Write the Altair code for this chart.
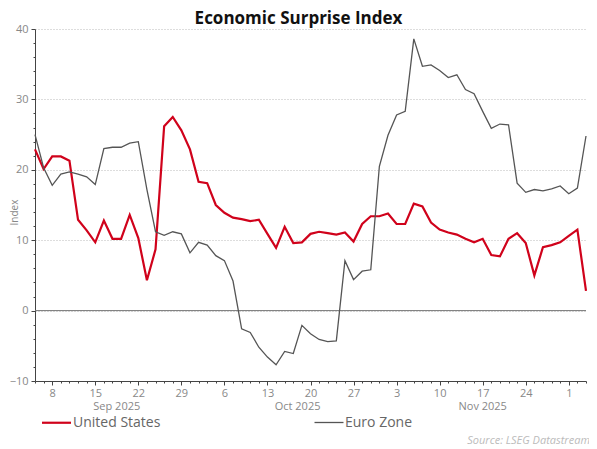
import altair as alt
import pandas as pd

# Business days shown on the chart (Sep 4 2025 .. Dec 3 2025)
dates = pd.bdate_range("2025-09-04", "2025-12-03")

us_values = [22.9, 20.1, 21.9, 21.9, 21.3, 12.9, 11.4, 9.7, 12.8, 10.2,
             10.2, 13.6, 10.3, 4.3, 8.7, 26.2, 27.5, 25.6, 22.9, 18.3,
             18.1, 15.0, 13.9, 13.2, 13.0, 12.7, 12.9, 10.9, 8.9, 11.9,
             9.6, 9.7, 10.9, 11.2, 11.0, 10.8, 11.1, 9.8, 12.3, 13.4,
             13.4, 13.8, 12.3, 12.3, 15.2, 14.8, 12.5, 11.5, 11.1, 10.8,
             10.2, 9.7, 10.2, 7.9, 7.7, 10.2, 11.0, 9.6, 5.0, 9.0,
             9.3, 9.7, 10.6, 11.5, 2.8]

ez_values = [25.0, 20.3, 17.8, 19.4, 19.7, 19.4, 19.0, 17.9, 23.0, 23.2,
             23.2, 23.8, 24.0, 17.2, 11.2, 10.7, 11.2, 10.9, 8.2, 9.7,
             9.3, 7.8, 7.1, 4.2, -2.6, -3.1, -5.2, -6.6, -7.7, -5.8,
             -6.1, -2.1, -3.3, -4.1, -4.4, -4.3, 7.1, 4.4, 5.6, 5.8,
             20.5, 24.9, 27.8, 28.3, 38.6, 34.7, 34.9, 34.1, 33.1, 33.5,
             31.4, 30.8, 28.3, 25.9, 26.5, 26.4, 18.1, 16.8, 17.2, 17.0,
             17.3, 17.7, 16.6, 17.4, 24.8]

series_names = ["United States", "Euro Zone"]
series_colors = ["#D0021B", "#555555"]
series_widths = [2.2, 1.3]
y_ticks = list(range(-10, 41, 2))
title_text = "Economic Surprise Index"
source_text = "Source: LSEG Datastream"

W, H = 551, 352
FONT = "Open Sans"

idx = list(range(len(dates)))
df = pd.DataFrame({
    "i": idx * 2,
    "date": [d.strftime("%Y-%m-%d") for d in dates] * 2,
    "series": [series_names[0]] * len(idx) + [series_names[1]] * len(idx),
    "value": us_values + ez_values,
})

# x tick labels: day number on Mondays only
day_labels = [str(d.day) if d.weekday() == 0 else "" for d in dates]
is_monday = [1 if d.weekday() == 0 else 0 for d in dates]
label_arr = "[" + ",".join("'" + s + "'" for s in day_labels) + "]"
monday_arr = "[" + ",".join(str(v) for v in is_monday) + "]"

# month labels centred on each month's span
months = pd.DataFrame({"i": idx, "m": [d.strftime("%b %Y") for d in dates]})
mdf = months.groupby("m", sort=False)["i"].agg(["min", "max"]).reset_index()
mdf = mdf[mdf["m"] != "Dec 2025"]
mdf["pos"] = (mdf["min"] + mdf["max"]) / 2 + 0.5

xscale = alt.Scale(domain=[0, len(idx) - 1], nice=False, zero=False)
yscale = alt.Scale(domain=[-10, 40], nice=False, zero=False)

xaxis = alt.Axis(
    values=idx,
    labelExpr=label_arr + "[datum.value]",
    tickSize={"condition": {"test": monday_arr + "[datum.value] == 1", "value": 4}, "value": 2},
    labelOverlap=False, labelFlush=False, grid=False, title=None,
    domainColor="#444444", tickColor="#444444", labelColor="#888888",
    labelFontSize=11, labelFont=FONT, labelPadding=2,
)
yaxis = alt.Axis(
    values=y_ticks,
    labelExpr="datum.value % 10 == 0 ? datum.label : ''",
    tickSize={"condition": {"test": "datum.value % 10 == 0", "value": 4}, "value": 2},
    grid=True,
    gridOpacity={"condition": {"test": "datum.value % 10 == 0 && datum.value > -10", "value": 1}, "value": 0},
    gridDash=[1, 2], gridColor="#bbbbbb", gridWidth=1,
    labelOverlap=False, labelFlush=False,
    domainColor="#444444", tickColor="#444444", labelColor="#888888",
    labelFontSize=11, labelFont=FONT, labelPadding=3,
    title="Index", titleColor="#888888", titleFont=FONT, titleFontSize=10,
    titleFontWeight="normal", titleX=-21, titleY=183, titleAngle=-90,
    titleBaseline="middle", titleAlign="center",
)

color = alt.Color("series:N", scale=alt.Scale(domain=series_names, range=series_colors), title=None)
swidth = alt.StrokeWidth("series:N", scale=alt.Scale(domain=series_names, range=series_widths), title=None)

base = alt.Chart(df)

zero = alt.Chart(pd.DataFrame({"y": [0]})).mark_rule(color="#777777", strokeWidth=1).encode(
    y=alt.Y("y:Q", scale=yscale, axis=yaxis)
)

us_line = base.transform_filter(alt.datum.series == series_names[0]).mark_line().encode(
    x=alt.X("i:Q", scale=xscale, axis=xaxis),
    y=alt.Y("value:Q", scale=yscale, axis=yaxis),
    color=color, strokeWidth=swidth,
)
ez_line = base.transform_filter(alt.datum.series == series_names[1]).mark_line().encode(
    x=alt.X("i:Q", scale=xscale, axis=xaxis),
    y=alt.Y("value:Q", scale=yscale, axis=yaxis),
    color=color, strokeWidth=swidth,
)

month_text = alt.Chart(mdf).mark_text(
    font=FONT, fontSize=11, color="#888888", baseline="middle", align="center"
).encode(
    x=alt.X("pos:Q", scale=xscale, axis=xaxis),
    y=alt.value(H + 26),
    text="m:N",
)

source = alt.Chart(pd.DataFrame({"t": [source_text]})).mark_text(
    font=FONT, fontSize=11, fontStyle="italic", color="#bbbbbb", align="right", baseline="middle"
).encode(
    x=alt.value(W + 4), y=alt.value(H + 60), text="t:N"
)

chart = alt.layer(zero, us_line, ez_line, month_text, source).properties(
    width=W, height=H,
    title=alt.TitleParams(title_text, font=FONT, fontSize=17, fontWeight="bold",
                          color="#111111", anchor="middle", dx=-12, offset=-5),
    autosize=alt.AutoSizeParams(type="none"),
    padding={"left": 27, "top": 21, "right": 3, "bottom": 68},
).configure_view(stroke=None).configure_legend(
    orient="none", legendX=13, legendY=385, direction="horizontal",
    symbolType="M-2,0H2", symbolSize=210, labelFontSize=14, labelFont=FONT,
    labelColor="#666666", labelOffset=8, columnPadding=150, padding=0,
)

chart.save("out.html", embed_options={"renderer": "svg", "actions": False})
